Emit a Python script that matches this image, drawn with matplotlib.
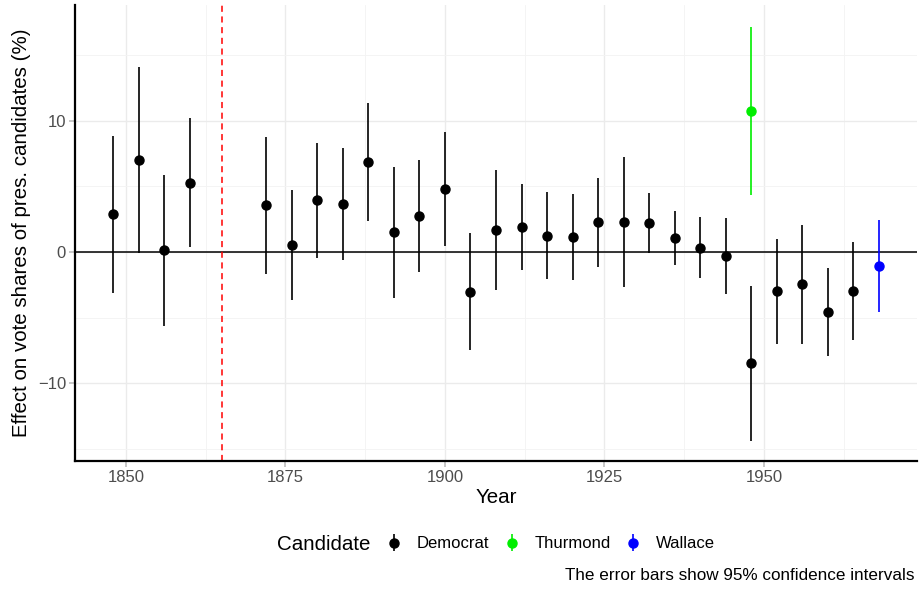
import matplotlib.pyplot as plt
import numpy as np

plt.rcParams['font.family'] = ['Liberation Sans', 'DejaVu Sans']

# Democrat estimates with 95% CI
dem_years = [1848, 1852, 1856, 1860, 1872, 1876, 1880, 1884, 1888, 1892, 1896, 1900,
             1904, 1908, 1912, 1916, 1920, 1924, 1928, 1932, 1936, 1940, 1944, 1948,
             1952, 1956, 1960, 1964]
dem_est = [2.88, 7.02, 0.15, 5.29, 3.59, 0.53, 3.94, 3.69, 6.87, 1.50, 2.77, 4.83,
           -3.03, 1.68, 1.93, 1.25, 1.17, 2.29, 2.29, 2.21, 1.09, 0.33, -0.33, -8.50,
           -3.00, -2.47, -4.58, -2.98]
dem_hi = [8.86, 14.12, 5.90, 10.23, 8.78, 4.73, 8.32, 7.94, 11.40, 6.49, 7.02, 9.16,
          1.42, 6.23, 5.22, 4.61, 4.45, 5.65, 7.28, 4.50, 3.13, 2.67, 2.57, -2.57,
          1.02, 2.04, -1.25, 0.76]
dem_lo = [-3.13, -0.05, -5.62, 0.36, -1.65, -3.69, -0.48, -0.64, 2.34, -3.51, -1.53, 0.43,
          -7.48, -2.88, -1.35, -2.09, -2.16, -1.12, -2.70, -0.08, -0.97, -2.01, -3.23, -14.45,
          -7.00, -7.00, -7.91, -6.74]

thur_years = [1948]
thur_est = [10.74]
thur_hi = [17.18]
thur_lo = [4.33]

wal_years = [1968]
wal_est = [-1.04]
wal_hi = [2.47]
wal_lo = [-4.55]

civil_war = 1865

fig = plt.figure(figsize=(9.2, 5.9), dpi=100)
ax = fig.add_axes([75/920, (590-461)/590, (917-75)/920, (461-5)/590])

def draw(years, est, lo, hi, color, label):
    est = np.array(est)
    yerr = [est - np.array(lo), np.array(hi) - est]
    return ax.errorbar(years, est, yerr=yerr, fmt='o', color=color, ecolor=color,
                       markersize=6.5, elinewidth=1.2, capsize=0, label=label, zorder=3)

h1 = draw(dem_years, dem_est, dem_lo, dem_hi, 'black', 'Democrat')
h2 = draw(thur_years, thur_est, thur_lo, thur_hi, '#00ee00', 'Thurmond')
h3 = draw(wal_years, wal_est, wal_lo, wal_hi, '#0000ff', 'Wallace')

ax.axhline(0, color='black', lw=1.1, zorder=2)
ax.axvline(civil_war, color='red', ls=(0, (4, 3)), lw=1.1, zorder=2)

ax.set_xlim(1842, 1974)
ax.set_ylim(-15.95, 18.85)
ax.set_xticks([1850, 1875, 1900, 1925, 1950])
ax.set_yticks([-10, 0, 10])
ax.set_xticks([1862.5, 1887.5, 1912.5, 1937.5, 1962.5], minor=True)
ax.set_yticks([-15, -5, 5, 15], minor=True)
ax.grid(True, which='major', color='#ebebeb', lw=1.0, zorder=0)
ax.grid(True, which='minor', color='#f3f3f3', lw=0.6, zorder=0)
ax.tick_params(which='minor', length=0)
ax.tick_params(which='major', length=4, width=1.1, color='#b8b8b8', labelsize=12,
               labelcolor='#4d4d4d', pad=2.5)
ax.set_axisbelow(True)

for s in ['top', 'right']:
    ax.spines[s].set_visible(False)
for s in ['left', 'bottom']:
    ax.spines[s].set_linewidth(1.6)

ax.set_xlabel('Year', fontsize=14.8, labelpad=2)
ax.set_ylabel('Effect on vote shares of pres. candidates (%)', fontsize=14.8, labelpad=5)

fig.text(277/920, 1 - 544/590, 'Candidate', fontsize=14.8, va='center', ha='left')
fig.legend(handles=[h1, h2, h3], loc='center left', bbox_to_anchor=(385.7/920, 1 - 544/590),
           ncol=3, frameon=False, fontsize=12, handlelength=1.0, handletextpad=0.88,
           columnspacing=0.82, borderaxespad=0, borderpad=0)

fig.text(915/920, 1 - 576/590, 'The error bars show 95% confidence intervals',
         fontsize=12.3, ha='right', va='center')

fig.savefig('out.png', dpi=100)
